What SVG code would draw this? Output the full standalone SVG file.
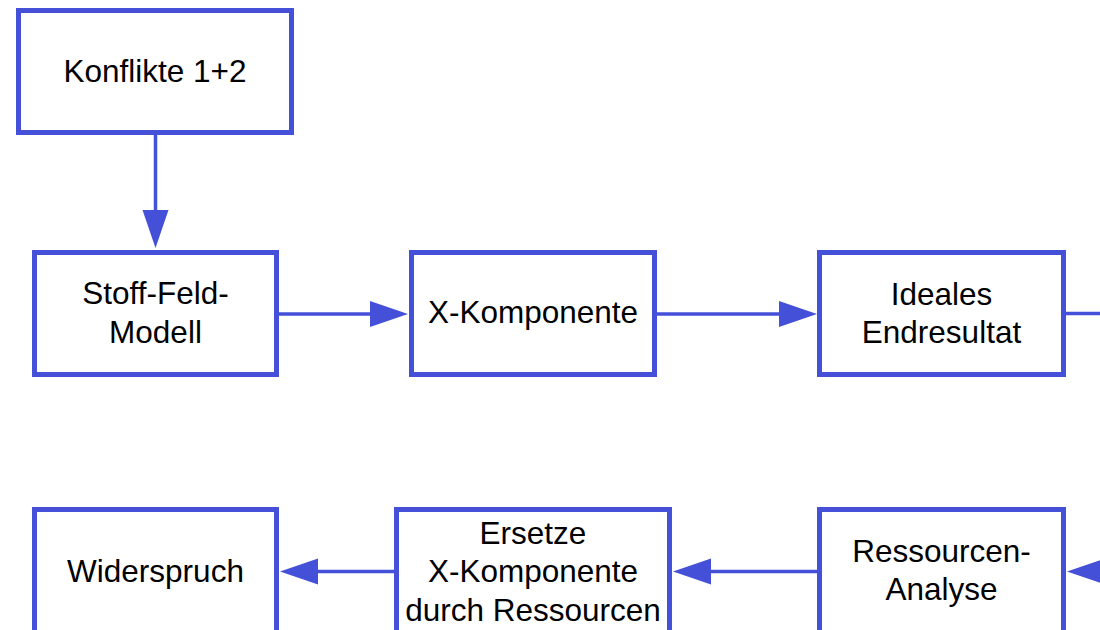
<svg xmlns="http://www.w3.org/2000/svg" width="1100" height="630" viewBox="0 0 1100 630">
  <style>
    .box { fill: #ffffff; stroke: #4450D8; stroke-width: 5; }
    .lbl { font-family: "Liberation Sans", Arial, sans-serif; font-size: 31.5px; fill: #000000; text-anchor: middle; }
    .edge { stroke: #4450D8; stroke-width: 3.5; fill: none; marker-end: url(#head); }
  </style>
  <defs>
    <!-- arrowhead sits beyond the line end, tip 38px ahead -->
    <marker id="head" markerUnits="userSpaceOnUse" markerWidth="40" markerHeight="28" refX="0" refY="13" orient="auto" overflow="visible">
      <path d="M0,0 L38,13 L0,26 Z" fill="#4450D8"/>
    </marker>
  </defs>
  <rect width="1100" height="630" fill="#ffffff"/>

  <g id="connectors">
    <line class="edge" x1="155.5" y1="135" x2="155.5" y2="210"/>
    <line class="edge" x1="279" y1="314" x2="370" y2="314"/>
    <line class="edge" x1="657" y1="314" x2="779" y2="314"/>
    <line x1="1066" y1="313.5" x2="1100" y2="313.5" stroke="#4450D8" stroke-width="3.5"/>
    <line class="edge" x1="1120" y1="571.5" x2="1105" y2="571.5"/>
    <line class="edge" x1="817" y1="571.5" x2="711" y2="571.5"/>
    <line class="edge" x1="394" y1="571.5" x2="318" y2="571.5"/>
  </g>

  <g id="konflikte">
    <rect class="box" x="18.5" y="10.5" width="273" height="122"/>
    <text class="lbl" x="155" y="82">Konflikte 1+2</text>
  </g>

  <g id="stoff-feld-modell">
    <rect class="box" x="34.5" y="252.5" width="242" height="122"/>
    <text class="lbl" x="155.5" y="304">Stoff-Feld-</text>
    <text class="lbl" x="155.5" y="343">Modell</text>
  </g>

  <g id="x-komponente">
    <rect class="box" x="411.5" y="252.5" width="243" height="122"/>
    <text class="lbl" x="533" y="323">X-Komponente</text>
  </g>

  <g id="ideales-endresultat">
    <rect class="box" x="819.5" y="252.5" width="244" height="122"/>
    <text class="lbl" x="941.5" y="305">Ideales</text>
    <text class="lbl" x="941.5" y="343">Endresultat</text>
  </g>

  <g id="widerspruch">
    <rect class="box" x="34.5" y="509.5" width="242" height="130"/>
    <text class="lbl" x="155.5" y="582">Widerspruch</text>
  </g>

  <g id="ersetze">
    <rect class="box" x="396.5" y="509.5" width="273" height="130"/>
    <text class="lbl" x="533" y="544">Ersetze</text>
    <text class="lbl" x="533" y="582">X-Komponente</text>
    <text class="lbl" x="533" y="621">durch Ressourcen</text>
  </g>

  <g id="ressourcen-analyse">
    <rect class="box" x="819.5" y="509.5" width="244" height="130"/>
    <text class="lbl" x="941.5" y="562">Ressourcen-</text>
    <text class="lbl" x="941.5" y="600">Analyse</text>
  </g>
</svg>
